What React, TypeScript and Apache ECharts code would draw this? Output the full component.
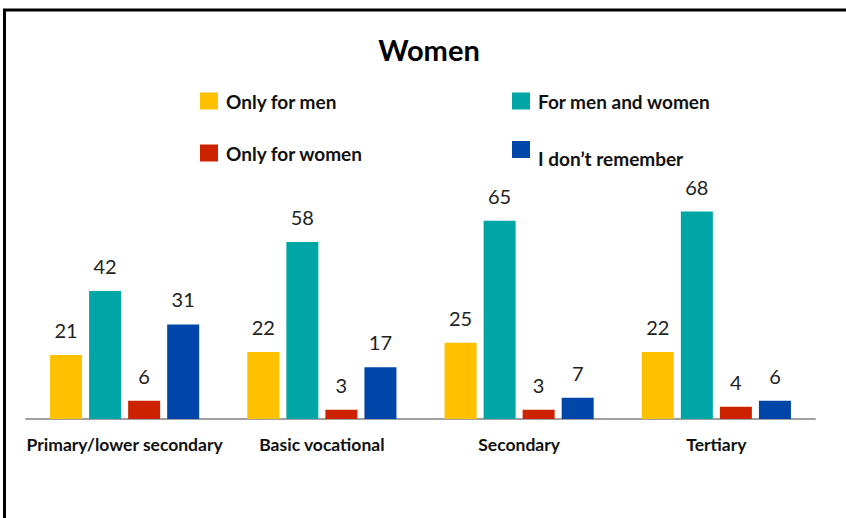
import React, { useEffect, useRef } from "react";
import * as echarts from "echarts";

const categories = ["Primary/lower secondary", "Basic vocational", "Secondary", "Tertiary"];
const seriesNames = ["Only for men", "For men and women", "Only for women", "I don\u2019t remember"];
const onlyMen = [21, 22, 25, 22];
const menAndWomen = [42, 58, 65, 68];
const onlyWomen = [6, 3, 3, 4];
const dontRemember = [31, 17, 7, 6];
const colors = ["#FFC000", "#00A6A6", "#CC2200", "#0046A8"];

const FONT = "Lato, 'Open Sans', sans-serif";

export default function App() {
  const ref = useRef<HTMLDivElement>(null);
  useEffect(() => {
    if (!ref.current) return;
    const chart = echarts.init(ref.current, null, { renderer: "svg" });
    const values = [onlyMen, menAndWomen, onlyWomen, dontRemember];
    const legendPos = [
      { left: 200, top: 89 },
      { left: 512, top: 89 },
      { left: 200, top: 141 },
      { left: 512, top: 131 },
    ];
    chart.setOption({
      animation: false,
      backgroundColor: "#ffffff",
      title: {
        text: "Women",
        left: 424,
        textAlign: "center",
        top: 30,
        textStyle: { fontFamily: FONT, fontSize: 29, fontWeight: "bold", color: "#000" },
      },
      legend: seriesNames.map((n, i) => ({
        data: [n],
        left: legendPos[i].left,
        top: legendPos[i].top,
        padding: 0,
        itemWidth: 18,
        itemHeight: 17,
        icon: "rect",
        selectedMode: false,
        formatter: i === 3 ? (name: string) => "\n" + name : "{name}",
        textStyle: {
          fontFamily: FONT,
          fontSize: 19,
          fontWeight: "bold",
          color: "#111",
          lineHeight: i === 3 ? 18 : 20,
          padding: i === 3 ? [0, 0, 0, 3] : [4, 0, 0, 3],
        },
      })),
      grid: { left: 26, right: 31, top: 175, bottom: 99, containLabel: false },
      xAxis: {
        type: "category",
        data: categories,
        axisLine: { lineStyle: { color: "#A0A0A0", width: 2 } },
        axisTick: { show: false },
        axisLabel: {
          margin: 16,
          fontFamily: FONT,
          fontSize: 17.5,
          fontWeight: "bold",
          color: "#111",
          interval: 0,
        },
      },
      yAxis: {
        type: "value",
        min: 0,
        max: 80,
        show: false,
        splitLine: { show: false },
      },
      series: seriesNames.map((n, i) => ({
        name: n,
        type: "bar",
        data: values[i],
        barWidth: 32,
        barGap: "22%",
        itemStyle: { color: colors[i] },
        label: {
          show: true,
          position: "top",
          distance: 15,
          fontFamily: FONT,
          fontSize: 20,
          color: "#222",
        },
      })),
      graphic: [
        { type: "line", shape: { x1: 3, y1: 10, x2: 846, y2: 10 }, style: { stroke: "#000", lineWidth: 3 } },
        { type: "line", shape: { x1: 4.5, y1: 10, x2: 4.5, y2: 518 }, style: { stroke: "#000", lineWidth: 3 } },
      ],
    });
    return () => chart.dispose();
  }, []);
  return (
    <div
      ref={ref}
      style={{ position: "absolute", left: 0, top: 0, width: 846, height: 518 }}
    />
  );
}
